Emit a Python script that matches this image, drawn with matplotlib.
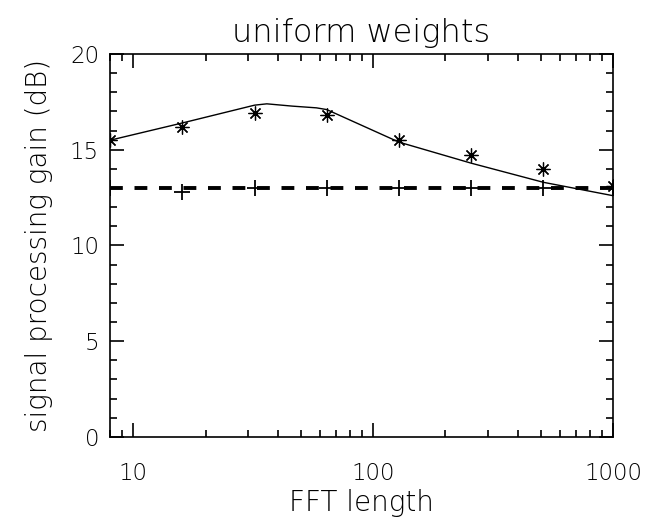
import numpy as np
import matplotlib.pyplot as plt
from matplotlib.ticker import MultipleLocator, LogLocator, NullFormatter

# FFT lengths
fft_len = [8, 16, 32, 64, 128, 256, 512, 1000]

# measured gain (asterisks)
gain_meas = [15.5, 16.2, 16.9, 16.8, 15.5, 14.75, 14.0, 13.1]

# predicted gain (plus markers)
gain_plus = [13.0, 12.8, 13.0, 13.0, 13.0, 13.0, 13.0, 13.0]

# solid curve
curve_x = [8, 16, 32, 36, 46, 58, 64, 128, 256, 512, 1000]
curve_y = [15.5, 16.4, 17.33, 17.4, 17.28, 17.19, 17.1, 15.4, 14.3, 13.3, 12.6]

# dashed reference level
ref_x = [8, 1000]
ref_y = [13.0, 13.0]

plt.rcParams["font.family"] = "DejaVu Sans"
plt.rcParams["font.weight"] = "light"
plt.rcParams["axes.titleweight"] = "light"
plt.rcParams["axes.labelweight"] = "light"
fig = plt.figure(figsize=(6.48, 5.25), dpi=100)
ax = fig.add_axes([0.17, 0.168, 0.776, 0.729])

ax.plot(curve_x, curve_y, "k-", lw=1.0)
ax.plot(ref_x, ref_y, "k--", lw=2.8, dashes=(3.3, 3.0))
ax.plot(fft_len, gain_meas, color="k", marker=(8, 2, 0), ms=10, mew=0.9,
        ls="none")
ax.plot(fft_len, gain_plus, "k+", ms=11, mew=1.3, ls="none")

ax.set_xscale("log")
ax.set_xlim(8, 1000)
ax.set_ylim(0, 20)

ax.xaxis.set_major_locator(LogLocator(base=10))
ax.xaxis.set_minor_locator(LogLocator(base=10, subs=np.arange(2, 10)))
ax.xaxis.set_minor_formatter(NullFormatter())
ax.set_xticks([10, 100, 1000])
ax.set_xticklabels(["10", "100", "1000"])
ax.yaxis.set_major_locator(MultipleLocator(5))
ax.yaxis.set_minor_locator(MultipleLocator(1))

ax.tick_params(which="both", direction="in", top=True, right=True,
               labelsize=16.5, width=1.2)
ax.tick_params(axis="x", pad=18)
ax.tick_params(axis="y", pad=8)
ax.tick_params(which="major", length=10)
ax.tick_params(which="minor", length=5)
for s in ax.spines.values():
    s.set_linewidth(1.2)

ax.set_xlabel("FFT length", fontsize=20, labelpad=3, fontweight="light")
ax.set_ylabel("signal processing gain (dB)", fontsize=20, labelpad=12,
              fontweight="light")
ax.set_title("uniform weights", fontsize=23, pad=9, fontweight="light")

fig.savefig("out.png", dpi=100)
